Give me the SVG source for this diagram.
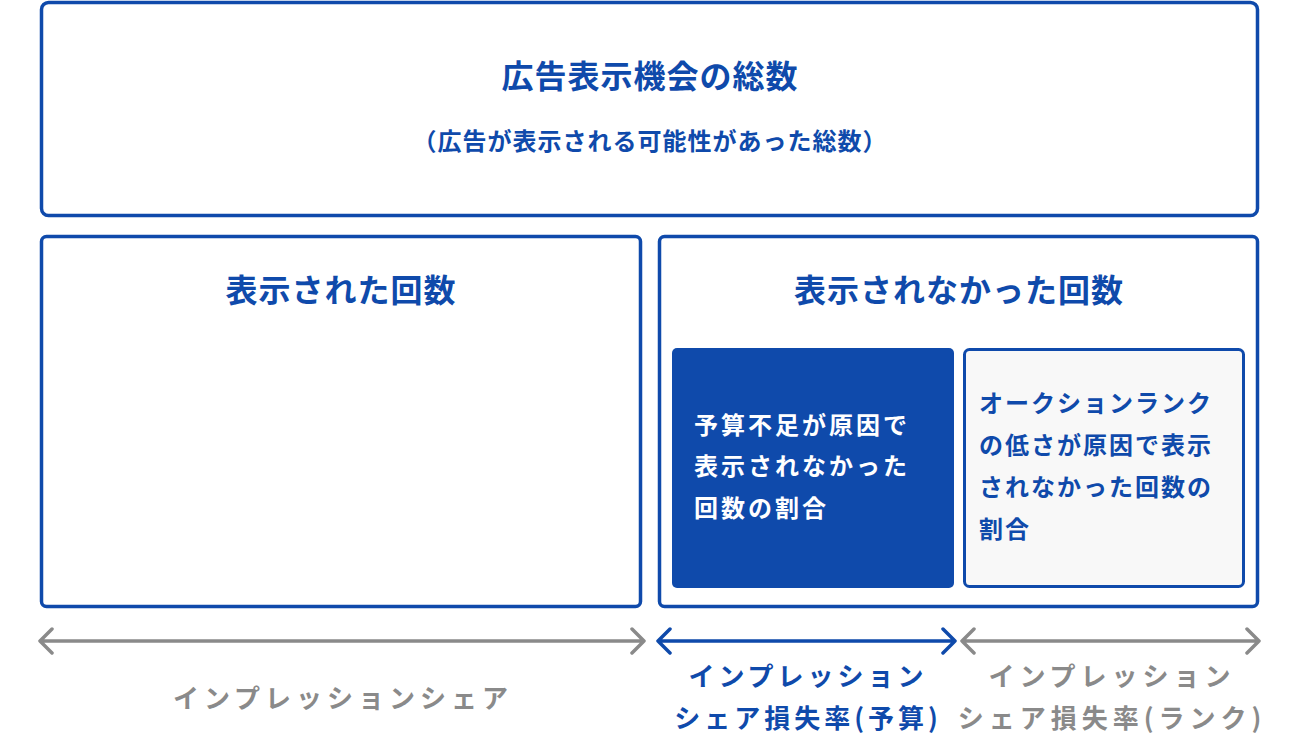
<svg xmlns="http://www.w3.org/2000/svg" width="1300" height="742" viewBox="0 0 1300 742">
<style>
.b{fill:#fff;stroke:#0f4aab;stroke-width:3.5}
text{font-family:"Noto Sans CJK JP",sans-serif;font-weight:bold}
.t{fill:#0f4aab;font-size:32px;text-anchor:middle;letter-spacing:1px}
.s{fill:#0f4aab;font-size:24px;text-anchor:middle;letter-spacing:1px}
.w{fill:#fff;font-size:24px;letter-spacing:3px}
.bl{fill:#0f4aab;font-size:24px;letter-spacing:2px}
.g{fill:#8a8a8a;font-size:26px;text-anchor:middle;letter-spacing:5px}
.gb{fill:#0f4aab;font-size:26px;text-anchor:middle;letter-spacing:4px}
.ar{fill:none;stroke-width:3.5;stroke-linecap:round;stroke-linejoin:round}
</style>
<rect width="1300" height="742" fill="#fff"/>
<g id="total"><rect class="b" x="41.5" y="2.5" width="1216" height="213" rx="7"/>
<text class="t" x="650" y="88">広告表示機会の総数</text>
<text class="s" x="650" y="150">（広告が表示される可能性があった総数）</text></g>
<g id="shown"><rect class="b" x="41.5" y="236.5" width="599" height="370" rx="5"/>
<text class="t" x="341" y="302">表示された回数</text></g>
<g id="notshown"><rect class="b" x="659.5" y="236.5" width="598" height="370" rx="5"/>
<text class="t" x="959" y="302">表示されなかった回数</text></g>
<g id="budget"><rect x="672" y="348" width="282" height="240" rx="5" fill="#0f4aab"/>
<text class="w"><tspan x="694" y="434">予算不足が原因で</tspan><tspan x="694" y="475">表示されなかった</tspan><tspan x="694" y="517">回数の割合</tspan></text></g>
<g id="rank"><rect x="964.5" y="349.5" width="279" height="237" rx="5" fill="#f8f8f8" stroke="#0f4aab" stroke-width="3"/>
<text class="bl"><tspan x="979" y="412">オークションランク</tspan><tspan x="979" y="454">の低さが原因で表示</tspan><tspan x="979" y="496">されなかった回数の</tspan><tspan x="979" y="538">割合</tspan></text></g>
<g id="connectors">
<path class="ar" stroke="#8a8a8a" d="M41 641H644M52 629L40 641L52 653M632 629L644 641L632 653"/>
<path class="ar" stroke="#0f4aab" d="M658 641H955M670 629L658 641L670 653M943 629L955 641L943 653"/>
<path class="ar" stroke="#8a8a8a" d="M962 641H1259M974 629L962 641L974 653M1247 629L1259 641L1247 653"/>
</g>
<g id="labels">
<text class="g" x="343" y="708">インプレッションシェア</text>
<text class="gb" x="808" y="686">インプレッション</text>
<text class="gb" x="808" y="728">シェア損失率(予算)</text>
<text class="g" x="1112" y="686" font-weight="normal">インプレッション</text>
<text class="g" x="1112" y="728">シェア損失率(ランク)</text>
</g>
</svg>
